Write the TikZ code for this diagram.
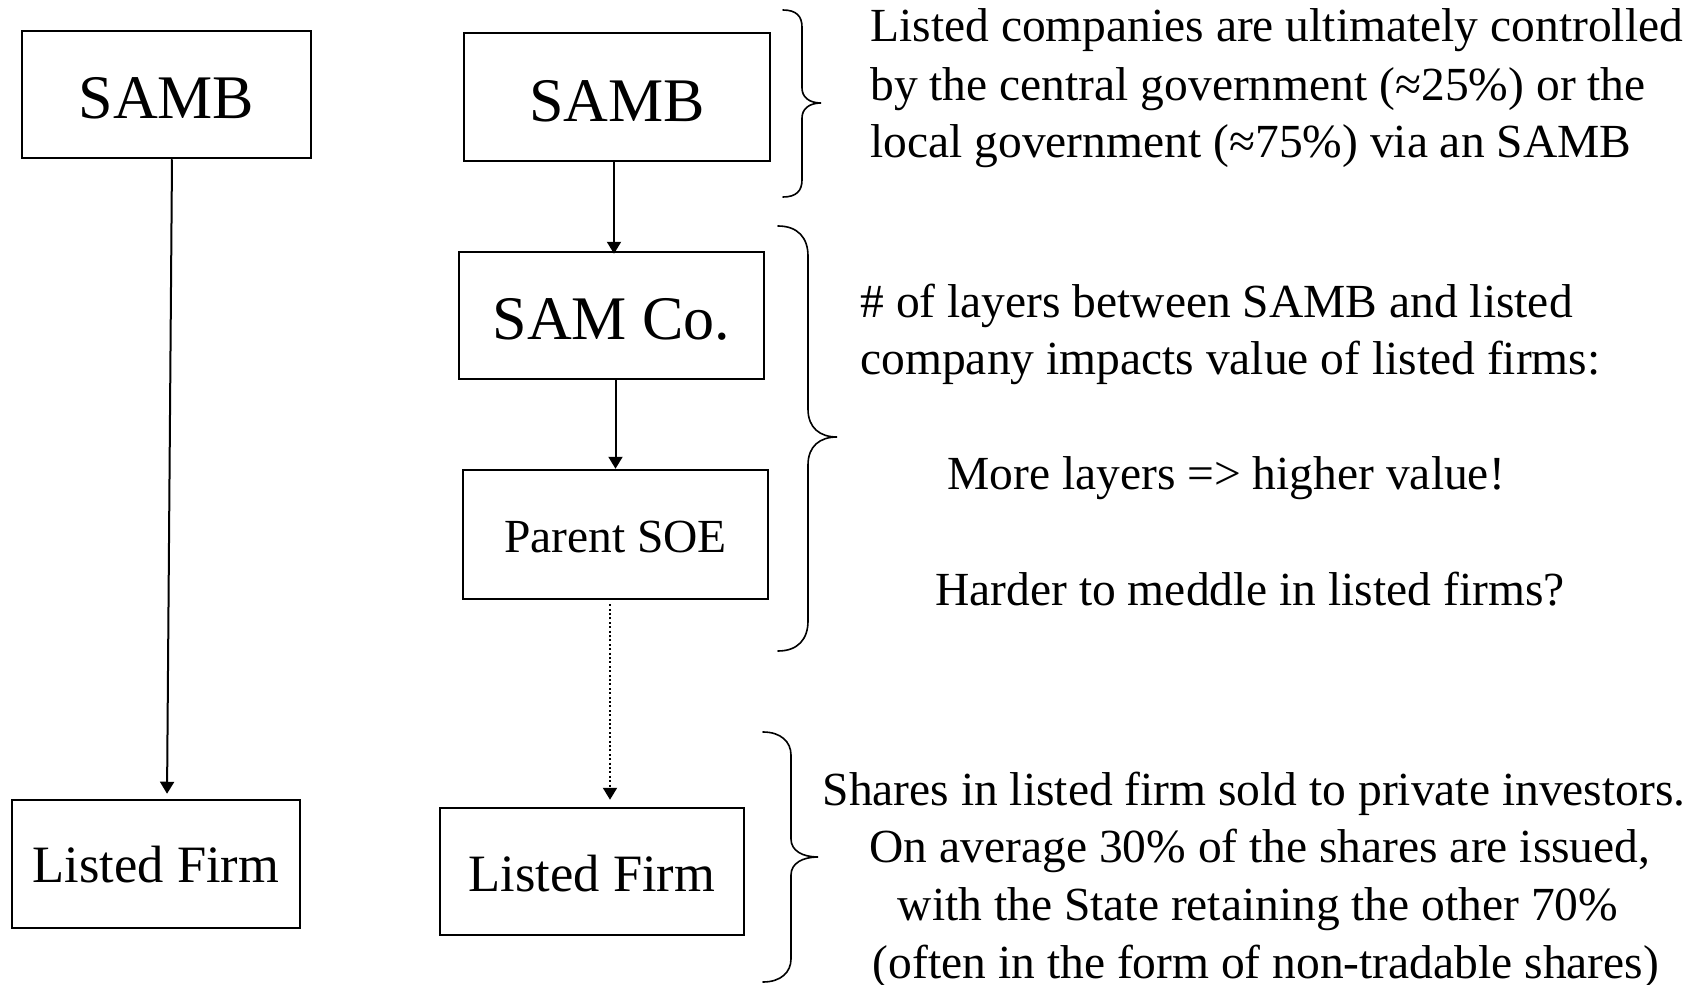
\documentclass[tikz,border=0pt]{standalone}
\usepackage{fontspec}
\setmainfont{Liberation Serif}
\usetikzlibrary{arrows.meta}

\begin{document}
\begin{tikzpicture}[x=0.5pt,y=-0.5pt,
  box/.style={draw,line width=1.25pt,inner sep=0pt,anchor=center,text depth=0pt},
  bigtext/.style={font=\fontsize{31pt}{37pt}\selectfont},
  midtext/.style={font=\fontsize{26.25pt}{31pt}\selectfont},
  bodytext/.style={font=\fontsize{23.75pt}{28.5pt}\selectfont},
  note/.style={bodytext,inner sep=0pt},
  arr/.style={line width=1pt,-{Triangle[length=6pt,width=7pt]}},
  dotarr/.style={line width=1pt,dash pattern=on 1pt off 1.2pt,-{Triangle[length=6pt,width=7pt]}},
  curly/.style={line width=0.8pt,line cap=round}]
\useasboundingbox (0,0) rectangle (1705,985);

% left column: direct ownership
\node[box,bigtext,minimum width=144.5pt,minimum height=63.5pt,text height=23.5pt] (sambL) at (166.5,94.5) {SAMB};
\node[box,midtext,minimum width=144pt,minimum height=64pt,text height=18pt] (firmL) at (156,864) {Listed Firm};

% right column: layered ownership chain
\node[box,bigtext,minimum width=153pt,minimum height=64pt,text height=24pt] (sambR) at (617,97) {SAMB};
\node[box,bigtext,minimum width=152.5pt,minimum height=63.5pt,text height=23.5pt] (samco) at (611.5,315.5) {SAM Co.};
\node[box,bodytext,minimum width=152.5pt,minimum height=64.5pt,text height=17.5pt] (parent) at (615.5,534.5) {Parent SOE};
\node[box,midtext,minimum width=152pt,minimum height=63.5pt,text height=19.5pt] (firmR) at (592,871.5) {Listed Firm};

% connectors
\draw[arr,shorten >=2.5pt] ([xshift=2.75pt]sambL.south) -- ([xshift=5.5pt]firmL.north);
\draw[arr,shorten >=-1.5pt] ([xshift=-1.5pt]sambR.south) -- ([xshift=-1.5pt]sambR.south |- samco.north);
\draw[arr] (samco.south -| parent.north) -- (parent.north);
\draw[dotarr,shorten <=2pt,shorten >=3.5pt] ([xshift=-2.75pt]parent.south) -- ([xshift=-2.75pt]parent.south |- firmR.north);

% braces
\draw[curly] (783,10) .. controls (796,10) and (802,16) .. (802,27) -- (802,88)
  .. controls (802,97) and (809,103) .. (821,103)
  .. controls (809,103) and (802,109) .. (802,118) -- (802,180)
  .. controls (802,191) and (796,197) .. (783,197);
\draw[curly] (778,226) .. controls (798,226) and (808,238) .. (808,256) -- (808,409)
  .. controls (808,428) and (820,437) .. (837,437)
  .. controls (820,437) and (808,446) .. (808,465) -- (808,621)
  .. controls (808,639) and (798,651) .. (778,651);
\draw[curly] (763,732) .. controls (781,732) and (791,742) .. (791,755) -- (791,839)
  .. controls (791,851) and (803,857) .. (818,857)
  .. controls (803,857) and (791,863) .. (791,875) -- (791,959)
  .. controls (791,972) and (781,982) .. (763,982);

% annotations
\node[note,anchor=base west] (t1a) at (870,41) {Listed companies are ultimately controlled};
\node[note,anchor=base west] (t1b) at (870,100) {by the central government (≈25\%) or the};
\node[note,anchor=base west] (t1c) at (870,157) {local government (≈75\%) via an SAMB};

\node[note,anchor=base west] (t2a) at (860,317) {\# of layers between SAMB and listed};
\node[note,anchor=base west] (t2b) at (860,374) {company impacts value of listed firms:};
\node[note,anchor=base west] (t2c) at (947,489) {More layers => higher value!};
\node[note,anchor=base west] (t2d) at (935,605) {Harder to meddle in listed firms?};

\node[note,anchor=base] (t3a) at (1254,805) {Shares in listed firm sold to private investors.};
\node[note,anchor=base] (t3b) at (1260,862) {On average 30\% of the shares are issued,};
\node[note,anchor=base] (t3c) at (1258,920) {with the State retaining the other 70\%};
\node[note,anchor=base] (t3d) at (1266,978) {(often in the form of non-tradable shares)};
\end{tikzpicture}
\end{document}
